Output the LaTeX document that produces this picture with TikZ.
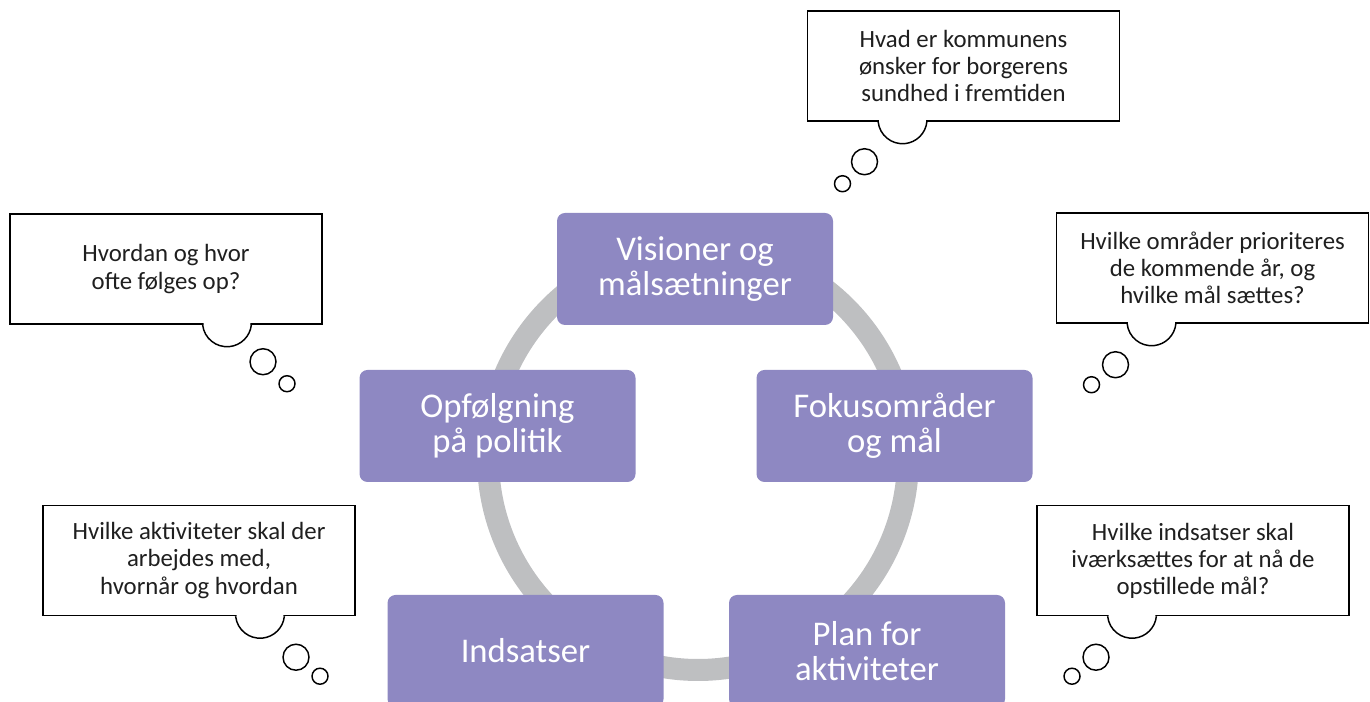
\documentclass[tikz,border=0pt]{standalone}
\usepackage{fontspec}
\setmainfont{Carlito}
\usetikzlibrary{positioning}
\definecolor{lilla}{RGB}{142,136,194}
\definecolor{ringgray}{RGB}{190,191,193}

\begin{document}
\begin{tikzpicture}[x=0.75pt, y=0.75pt,
    trin/.style={fill=lilla, rounded corners=6pt, text=white, align=center, minimum width=207pt, minimum height=84pt, inner sep=0pt, font=\fontsize{26}{26.5}\selectfont},
    tanke/.style={draw=black, line width=1.1pt, fill=white, align=center, minimum width=234pt, minimum height=82.5pt, inner sep=0pt, text=black!88, font=\fontsize{18.6}{20.3}\selectfont},
    boble/.style={draw=black, line width=1.1pt}]
    \useasboundingbox (0,0) rectangle (1370,702);

    % ring behind the steps
    \draw[ringgray, line width=16.5pt] (698,244) ellipse [x radius=210, y radius=212];

    \node (visioner) [trin] at (695,433) {Visioner og\\målsætninger};
    \node (opfoelg) [trin] at (497.5,276) {Opfølgning\\på politik};
    \node (fokus) [trin] at (894.5,276) {Fokusområder\\og mål};
    \node (indsats) [trin] at (525.5,51) {Indsatser};
    \node (plan) [trin] at (867,51) {Plan for\\aktiviteter};

    % thought bubbles
    \node (qVision) [tanke] at (963.5,636) {Hvad er kommunens\\ønsker for borgerens\\sundhed i fremtiden};
    \node (qOpf) [tanke] at (166,433) {Hvordan og hvor\\ofte følges op?};
    \node (qFokus) [tanke] at (1212.5,434) {Hvilke områder prioriteres\\de kommende år, og\\hvilke mål sættes?};
    \node (qInds) [tanke] at (199,141.5) {Hvilke aktiviteter skal der\\arbejdes med,\\hvornår og hvordan};
    \node (qPlan) [tanke] at (1193,141.5) {Hvilke indsatser skal\\iværksættes for at nå de\\opstillede mål?};

    \coordinate (kVision) at ([shift={(-61,2.5)}]qVision.south);
    \coordinate (kOpf) at ([shift={(61,2.5)}]qOpf.south);
    \coordinate (kFokus) at ([shift={(-61,2.5)}]qFokus.south);
    \coordinate (kInds) at ([shift={(61,2.5)}]qInds.south);
    \coordinate (kPlan) at ([shift={(-61,2.5)}]qPlan.south);

    % open the box edge under each bump
    \fill[white] (kVision) ++(178:23.5) arc[start angle=178, end angle=362, radius=23.5] -- cycle;
    \fill[white] (kOpf) ++(178:23.5) arc[start angle=178, end angle=362, radius=23.5] -- cycle;
    \fill[white] (kFokus) ++(178:23.5) arc[start angle=178, end angle=362, radius=23.5] -- cycle;
    \fill[white] (kInds) ++(178:23.5) arc[start angle=178, end angle=362, radius=23.5] -- cycle;
    \fill[white] (kPlan) ++(178:23.5) arc[start angle=178, end angle=362, radius=23.5] -- cycle;
    \draw[boble] (kVision) ++(185.9:24.5) arc[start angle=185.9, end angle=354.1, radius=24.5];
    \draw[boble] (kOpf) ++(185.9:24.5) arc[start angle=185.9, end angle=354.1, radius=24.5];
    \draw[boble] (kFokus) ++(185.9:24.5) arc[start angle=185.9, end angle=354.1, radius=24.5];
    \draw[boble] (kInds) ++(185.9:24.5) arc[start angle=185.9, end angle=354.1, radius=24.5];
    \draw[boble] (kPlan) ++(185.9:24.5) arc[start angle=185.9, end angle=354.1, radius=24.5];

    \draw[boble] ([shift={(-38,-42.5)}]kVision) circle (13) ([shift={(-60,-64.5)}]kVision) circle (8);
    \draw[boble] ([shift={(36,-39.5)}]kOpf) circle (13) ([shift={(60,-61.5)}]kOpf) circle (8);
    \draw[boble] ([shift={(-36,-43.5)}]kFokus) circle (13) ([shift={(-60,-63.5)}]kFokus) circle (8);
    \draw[boble] ([shift={(36,-43.5)}]kInds) circle (13) ([shift={(60,-62.5)}]kInds) circle (8);
    \draw[boble] ([shift={(-36,-43.5)}]kPlan) circle (13) ([shift={(-60,-62.5)}]kPlan) circle (8);
\end{tikzpicture}
\end{document}
